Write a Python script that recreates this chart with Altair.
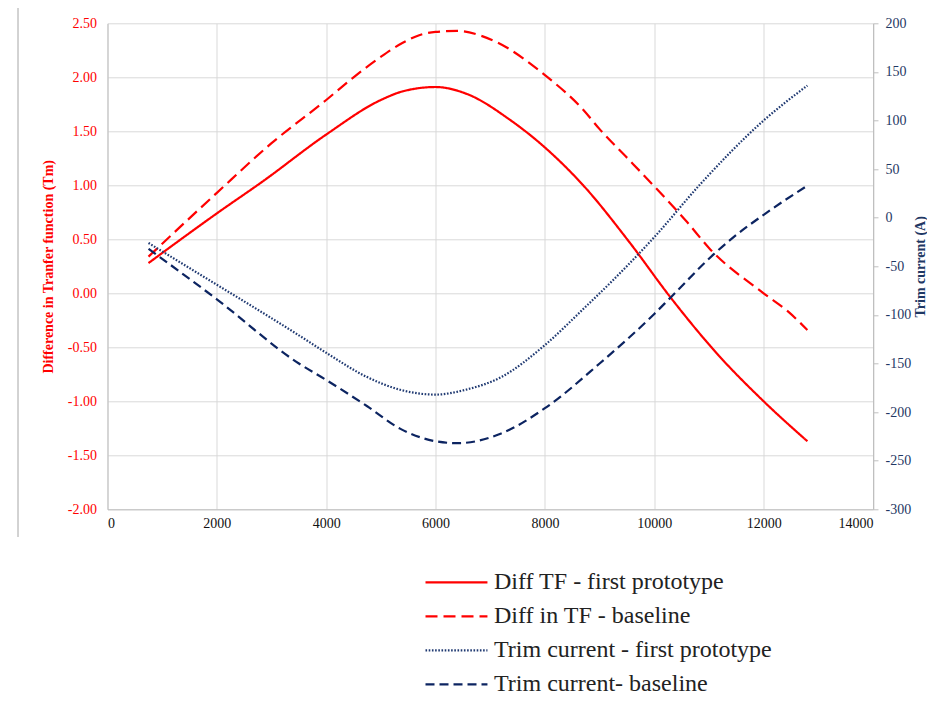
import altair as alt
import pandas as pd

# ---------------- data ----------------
series_names = [
    "Diff TF - first prototype",
    "Diff in TF - baseline",
    "Trim current - first prototype",
    "Trim current- baseline",
]

tfp_x = [750, 2000, 2850, 4000, 5000, 5400, 6000, 6600, 7350, 8000, 8700,
         9550, 10300, 11150, 12000, 12800]
tfp_y = [0.28, 0.74, 1.04, 1.47, 1.79, 1.87, 1.91, 1.84, 1.61, 1.35, 1.00,
         0.47, -0.04, -0.56, -1.00, -1.37]

tfb_x = [750, 2000, 3000, 4000, 4500, 5000, 5400, 5700, 6000, 6400, 6800, 7100,
         8000, 8700, 9000, 9550, 10000, 10600, 11000, 12000, 12450, 12800]
tfb_y = [0.34, 0.93, 1.39, 1.79, 2.00, 2.19, 2.32, 2.39, 2.42, 2.43, 2.39, 2.33,
         2.02, 1.70, 1.52, 1.23, 0.99, 0.66, 0.42, 0.00, -0.17, -0.34]

tcp_x = [750, 2000, 2700, 3500, 4000, 4750, 5350, 6000, 6550, 7200, 8000, 8700,
         9250, 10000, 10850, 12000, 12800]
tcp_y = [-26, -69, -93, -121, -139, -164, -177, -182, -177, -164, -131, -94,
         -64, -20, 35, 100, 136]

tcb_x = [750, 2000, 3500, 4000, 4750, 5350, 6000, 6400, 7200, 8000, 9000, 10000,
         10300, 11100, 11450, 12000, 12800]
tcb_y = [-32, -84, -150, -167, -194, -217, -230, -232, -222, -196, -150, -99,
         -82, -37, -20, 3, 33]

left_ticks = [-2.0, -1.5, -1.0, -0.5, 0.0, 0.5, 1.0, 1.5, 2.0, 2.5]
right_ticks = [-300, -250, -200, -150, -100, -50, 0, 50, 100, 150, 200]
x_ticks = [0, 2000, 4000, 6000, 8000, 10000, 12000, 14000]

# ---------------- styles ----------------
RED = "#FF0000"
NAVY = "#1F3864"
colors = [RED, RED, "#203A72", "#0C2461"]
dashes = [[1, 0], [12, 6], [1.6, 1.6], [9, 5]]
widths = [2.2, 2.2, 1.6, 3.2]
FONT = "Liberation Serif"
GRID = "#d9d9d9"
AXISC = "#bfbfbf"
HYPHEN = "replace(datum.label, '\u2212', '-')"

legend = alt.Legend(
    title=None, orient="none", legendX=316.5, legendY=542.5,
    symbolType="M-1,0H3.13", symbolSize=900, padding=0, rowPadding=5,
    labelFont=FONT, labelFontSize=24, labelColor="#222222", labelLimit=600,
    labelOffset=37,
)

color_enc = alt.Color("series:N", scale=alt.Scale(domain=series_names, range=colors),
                      legend=legend)
dash_enc = alt.StrokeDash("series:N", scale=alt.Scale(domain=series_names, range=dashes),
                          legend=legend)
width_enc = alt.StrokeWidth("series:N", scale=alt.Scale(domain=series_names, range=widths),
                            legend=legend)

x_enc = alt.X("x:Q", scale=alt.Scale(domain=[0, 14000], nice=False),
              axis=alt.Axis(values=x_ticks, format="d", grid=True, gridColor=GRID,
                            domainColor=AXISC, ticks=False, labelPadding=7,
                            labelFont=FONT, labelFontSize=14, labelColor="#111111",
                            title=None))

left_axis = alt.Axis(values=left_ticks, format=".2f", labelExpr=HYPHEN, grid=True,
                     gridColor=GRID, domainColor=AXISC, ticks=False, labelPadding=11,
                     labelFont=FONT, labelFontSize=14, labelColor=RED,
                     title="Difference in Tranfer function (Tm)", titleColor=RED,
                     titleFont=FONT, titleFontSize=14, titleFontWeight="bold",
                     titleX=-59.5, titleY=243, titleAngle=-90, titleAlign="center",
                     titleBaseline="middle")
right_axis = alt.Axis(values=right_ticks, format="d", labelExpr=HYPHEN, orient="right",
                      grid=False, domainColor=AXISC, tickColor=AXISC, tickSize=5,
                      labelPadding=7, labelFont=FONT, labelFontSize=14, labelColor=NAVY,
                      title="Trim current (A)", titleColor=NAVY,
                      titleFont=FONT, titleFontSize=14, titleFontWeight="bold",
                      titleX=47, titleY=243, titleAngle=-90, titleAlign="center",
                      titleBaseline="middle")

left_scale = alt.Scale(domain=[-2.0, 2.5], nice=False, zero=False)
right_scale = alt.Scale(domain=[-300, 200], nice=False, zero=False)


def series_line(name, xs, ys, yscale, yaxis):
    df = pd.DataFrame({"x": xs, "y": ys, "series": [name] * len(xs)})
    return alt.Chart(df).mark_line(interpolate="monotone").encode(
        x=x_enc,
        y=alt.Y("y:Q", scale=yscale, axis=yaxis),
        color=color_enc,
        strokeDash=dash_enc,
        strokeWidth=width_enc,
    )


l1 = series_line(series_names[0], tfp_x, tfp_y, left_scale, left_axis)
l2 = series_line(series_names[1], tfb_x, tfb_y, left_scale, left_axis)
r1 = series_line(series_names[2], tcp_x, tcp_y, right_scale, right_axis)
r2 = series_line(series_names[3], tcb_x, tcb_y, right_scale, right_axis)

frame_df = pd.DataFrame({"k": [0]})
frame_left = alt.Chart(frame_df).mark_rule(color="#a6a6a6", strokeWidth=1).encode(
    x=alt.value(-89.5), y=alt.value(-16.3), y2=alt.value(513.7))
frame_top = alt.Chart(frame_df).mark_rule(color="#a6a6a6", strokeWidth=1).encode(
    x=alt.value(-89.5), x2=alt.value(830), y=alt.value(-16.3))

left = alt.layer(l1, l2)
right = alt.layer(r1, r2)

chart = alt.layer(left, right, frame_left, frame_top).resolve_scale(
    y="independent"
).properties(
    width=765.5, height=486,
    padding={"left": 99.5, "top": 15.3, "right": 54, "bottom": 186.7},
    autosize="none",
).configure(font=FONT).configure_view(strokeWidth=0)

chart.save("out.html", embed_options={"renderer": "svg", "actions": False})
